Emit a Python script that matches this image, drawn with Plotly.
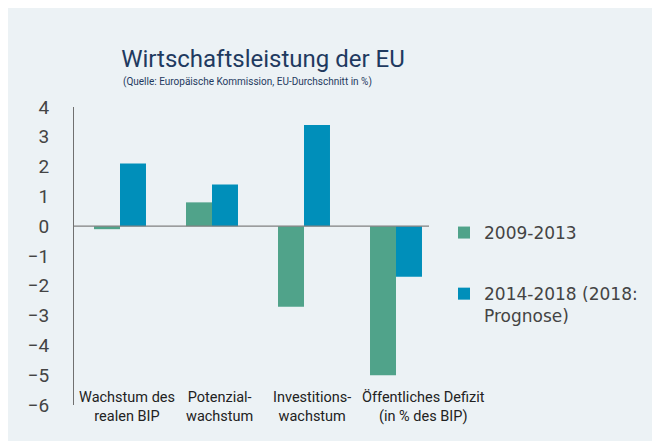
import plotly.graph_objects as go

categories = ["Wachstum des realen BIP", "Potenzialwachstum", "Investitionswachstum", "Öffentliches Defizit"]
tick_labels = ["Wachstum des<br>realen BIP", "Potenzial-<br>wachstum", "Investitions-<br>wachstum", "Öffentliches Defizit<br>(in % des BIP)"]
series_names = ["2009-2013", "2014-2018 (2018:<br>Prognose)"]
values_2009_2013 = [-0.1, 0.8, -2.7, -5.0]
values_2014_2018 = [2.1, 1.4, 3.4, -1.7]
y_ticks = [4, 3, 2, 1, 0, -1, -2, -3, -4, -5, -6]

# page body margin shifts the figure by 8px
OFF = 8
W, H = 660, 441
L, T = 74 - OFF, 107 - OFF
R = W - (442 - OFF)
B = H - (405 - OFF)
PW, PH = W - L - R, H - T - B

def px_x(px):
    return (px - OFF - L) / PW

def px_y(py):
    return (H - B - (py - OFF)) / PH

FONT = "Roboto"
LFONT = "DejaVu Sans"
GREEN = "#50a38a"
BLUE = "#008fba"

fig = go.Figure()
fig.add_trace(go.Bar(x=categories, y=values_2009_2013, name=series_names[0],
                     marker=dict(color=GREEN, line=dict(width=0)), legendgroup="a"))
fig.add_trace(go.Bar(x=categories, y=values_2014_2018, name=series_names[1],
                     marker=dict(color=BLUE, line=dict(width=0)), legendgroup="b"))

label_shift = [7, 7, 8, 27]
annotations = []
for cat, lab, sh in zip(categories, tick_labels, label_shift):
    annotations.append(dict(x=cat, xref="x", y=px_y(407), yref="paper", text=lab,
                            showarrow=False, xanchor="center", yanchor="middle",
                            xshift=sh, font=dict(family=FONT, size=14.5, color="#222222")))
annotations.append(dict(x=px_x(247), xref="paper", y=px_y(82), yref="paper",
                        text="(Quelle: Europäische Kommission, EU-Durchschnitt in %)",
                        showarrow=False, xanchor="center", yanchor="middle",
                        font=dict(family=FONT, size=10, color="#1f3a60")))

fig.update_layout(
    width=W, height=H,
    margin=dict(l=L, r=R, t=T, b=B, pad=0),
    paper_bgcolor="#ecf2f5",
    plot_bgcolor="rgba(0,0,0,0)",
    title=dict(text="Wirtschaftsleistung der EU", x=(263 - OFF) / W, xref="container", xanchor="center",
               y=1 - (59 - OFF) / H, yref="container", yanchor="middle",
               font=dict(family=FONT, size=24, color="#1f3a60")),
    barmode="group", bargap=0.435, bargroupgap=0,
    showlegend=True,
    legend=dict(x=px_x(444), y=px_y(215), xanchor="left", yanchor="top",
                font=dict(family=LFONT, size=17, color="#444444"),
                bgcolor="rgba(0,0,0,0)", tracegroupgap=36, valign="top",
                itemwidth=30, traceorder="grouped"),
    xaxis=dict(range=[-0.5, 3.5], showticklabels=False, showgrid=False, zeroline=False,
               showline=False, ticks=""),
    yaxis=dict(range=[-6, 4], tickvals=y_ticks, showgrid=False, zeroline=False,
               showline=True, linecolor="#707070", linewidth=1,
               ticks="outside", ticklen=20, tickcolor="rgba(0,0,0,0)",
               tickfont=dict(family=FONT, size=19, color="#444444")),
    annotations=annotations,
    shapes=[
        dict(type="line", xref="paper", yref="y", x0=0, x1=px_x(429), y0=0, y1=0,
             line=dict(color="#808080", width=1.3), layer="above"),
    ],
)

fig.write_html("out.html")
